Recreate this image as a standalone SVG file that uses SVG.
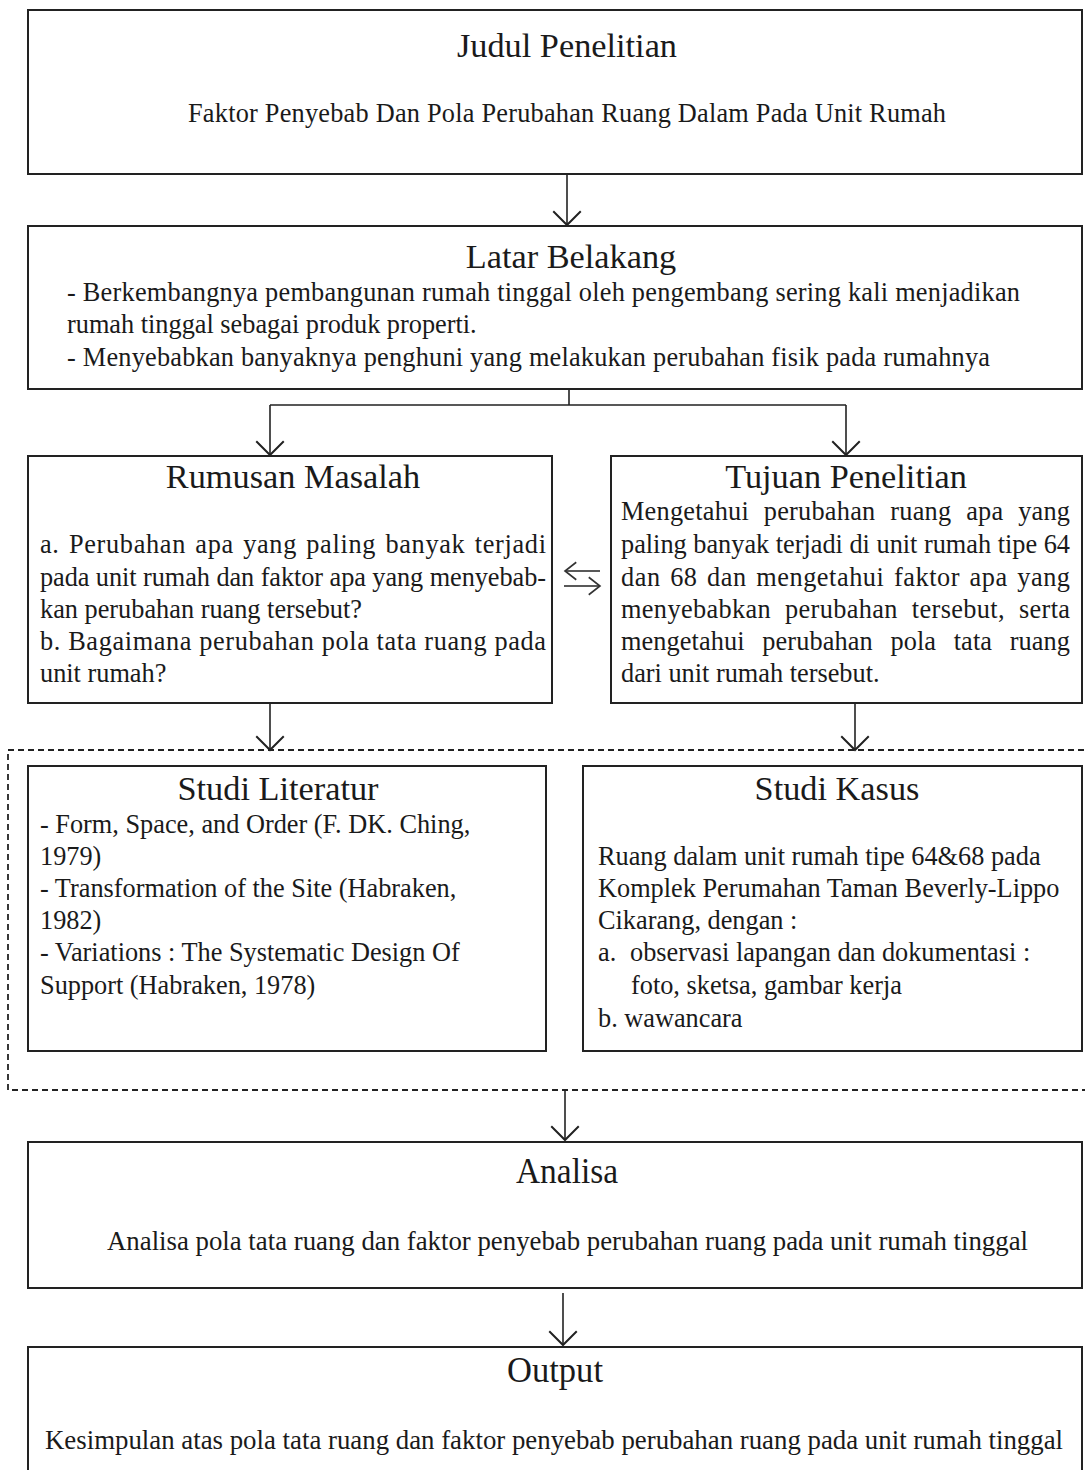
<svg xmlns="http://www.w3.org/2000/svg" width="1085" height="1470" viewBox="0 0 1085 1470">
<style>
.box{fill:#fff;stroke:#222;stroke-width:2}
.t{font-family:"Liberation Serif","Times New Roman",serif;fill:#1a1a1a}
.h{font-size:34.3px;text-anchor:middle}
.b{font-size:26.3px}
.c{fill:none;stroke:#222;stroke-width:1.6}
</style>
<defs>
<marker id="ah" markerUnits="userSpaceOnUse" markerWidth="30" markerHeight="30" viewBox="-16 -12 20 24" refX="0" refY="0" orient="auto">
<path d="M-11,-11 L0,0 L-11,11" fill="none" stroke="#222" stroke-width="1.6"/>
</marker>
<marker id="ahs" markerUnits="userSpaceOnUse" markerWidth="20" markerHeight="20" viewBox="-12 -8 16 16" refX="0" refY="0" orient="auto">
<path d="M-9,-7 L0,0 L-9,7" fill="none" stroke="#333" stroke-width="1.3"/>
</marker>
</defs>
<rect width="1085" height="1470" fill="#fff"/>
<g id="connectors">
<path class="c" d="M567,174 V225" marker-end="url(#ah)"/>
<path class="c" d="M569,389 V405 M270,405 H846"/>
<path class="c" d="M270,405 V455" marker-end="url(#ah)"/>
<path class="c" d="M846,405 V455" marker-end="url(#ah)"/>
<path class="c" d="M600,571 H565" marker-end="url(#ahs)" stroke-width="1.3"/>
<path class="c" d="M564,586 H600" marker-end="url(#ahs)" stroke-width="1.3"/>
<path class="c" d="M270,703 V750" marker-end="url(#ah)"/>
<path class="c" d="M855,703 V750" marker-end="url(#ah)"/>
<path class="c" d="M565,1090 V1140" marker-end="url(#ah)"/>
<path class="c" d="M563,1293 V1345" marker-end="url(#ah)"/>
</g>
<g id="group-studi">
<rect x="8" y="750" width="1090" height="340" fill="none" stroke="#222" stroke-width="1.8" stroke-dasharray="6,4"/>
</g>
<g id="judul">
<rect class="box" x="28" y="10" width="1054" height="164"/>
<text class="t h" x="567" y="57">Judul Penelitian</text>
<text class="t b" x="567" y="122" text-anchor="middle" textLength="758">Faktor Penyebab Dan Pola Perubahan Ruang Dalam Pada Unit Rumah</text>
</g>
<g id="latar">
<rect class="box" x="28" y="226" width="1054" height="163"/>
<text class="t h" x="571" y="268">Latar Belakang</text>
<text class="t b" x="67" y="301" textLength="953">- Berkembangnya pembangunan rumah tinggal oleh pengembang sering kali menjadikan</text>
<text class="t b" x="67" y="333">rumah tinggal sebagai produk properti.</text>
<text class="t b" x="67" y="366" textLength="923">- Menyebabkan banyaknya penghuni yang melakukan perubahan fisik pada rumahnya</text>
</g>
<g id="rumusan">
<rect class="box" x="28" y="456" width="524" height="247"/>
<text class="t h" x="293" y="488">Rumusan Masalah</text>
<text class="t b" x="40" y="553" textLength="506" word-spacing="2">a. Perubahan apa yang paling banyak terjadi</text>
<text class="t b" x="40" y="586" textLength="506">pada unit rumah dan faktor apa yang menyebab-</text>
<text class="t b" x="40" y="618">kan perubahan ruang tersebut?</text>
<text class="t b" x="40" y="650" textLength="506">b. Bagaimana perubahan pola tata ruang pada</text>
<text class="t b" x="40" y="682">unit rumah?</text>
</g>
<g id="tujuan">
<rect class="box" x="611" y="456" width="471" height="247"/>
<text class="t h" x="846" y="488">Tujuan Penelitian</text>
<text class="t b" x="621" y="520" textLength="449" word-spacing="8">Mengetahui perubahan ruang apa yang</text>
<text class="t b" x="621" y="553" textLength="449">paling banyak terjadi di unit rumah tipe 64</text>
<text class="t b" x="621" y="586" textLength="449" word-spacing="2.4">dan 68 dan mengetahui faktor apa yang</text>
<text class="t b" x="621" y="618" textLength="449" word-spacing="7">menyebabkan perubahan tersebut, serta</text>
<text class="t b" x="621" y="650" textLength="449" word-spacing="11">mengetahui perubahan pola tata ruang</text>
<text class="t b" x="621" y="682">dari unit rumah tersebut.</text>
</g>
<g id="studi-literatur">
<rect class="box" x="28" y="766" width="518" height="285"/>
<text class="t h" x="278" y="800">Studi Literatur</text>
<text class="t b" x="40" y="833">- Form, Space, and Order (F. DK. Ching,</text>
<text class="t b" x="40" y="865">1979)</text>
<text class="t b" x="40" y="897">- Transformation of the Site (Habraken,</text>
<text class="t b" x="40" y="929">1982)</text>
<text class="t b" x="40" y="961">- Variations : The Systematic Design Of</text>
<text class="t b" x="40" y="994">Support (Habraken, 1978)</text>
</g>
<g id="studi-kasus">
<rect class="box" x="583" y="766" width="499" height="285"/>
<text class="t h" x="837" y="800">Studi Kasus</text>
<text class="t b" x="598" y="865">Ruang dalam unit rumah tipe 64&amp;68 pada</text>
<text class="t b" x="598" y="897">Komplek Perumahan Taman Beverly-Lippo</text>
<text class="t b" x="598" y="929">Cikarang, dengan :</text>
<text class="t b" x="598" y="961">a.</text>
<text class="t b" x="630" y="961">observasi lapangan dan dokumentasi :</text>
<text class="t b" x="631" y="994">foto, sketsa, gambar kerja</text>
<text class="t b" x="598" y="1027">b. wawancara</text>
</g>
<g id="analisa">
<rect class="box" x="28" y="1142" width="1054" height="146"/>
<text class="t" x="567" y="1183" font-size="36" text-anchor="middle" textLength="102" lengthAdjust="spacingAndGlyphs">Analisa</text>
<text class="t" x="107" y="1250" font-size="28" textLength="921" lengthAdjust="spacingAndGlyphs">Analisa pola tata ruang dan faktor penyebab perubahan ruang pada unit rumah tinggal</text>
</g>
<g id="output">
<rect class="box" x="28" y="1347" width="1054" height="140"/>
<text class="t" x="555" y="1382" font-size="36" text-anchor="middle" textLength="96" lengthAdjust="spacingAndGlyphs">Output</text>
<text class="t" x="45" y="1449" font-size="28" textLength="1018" lengthAdjust="spacingAndGlyphs">Kesimpulan atas pola tata ruang dan faktor penyebab perubahan ruang pada unit rumah tinggal</text>
</g>
</svg>
